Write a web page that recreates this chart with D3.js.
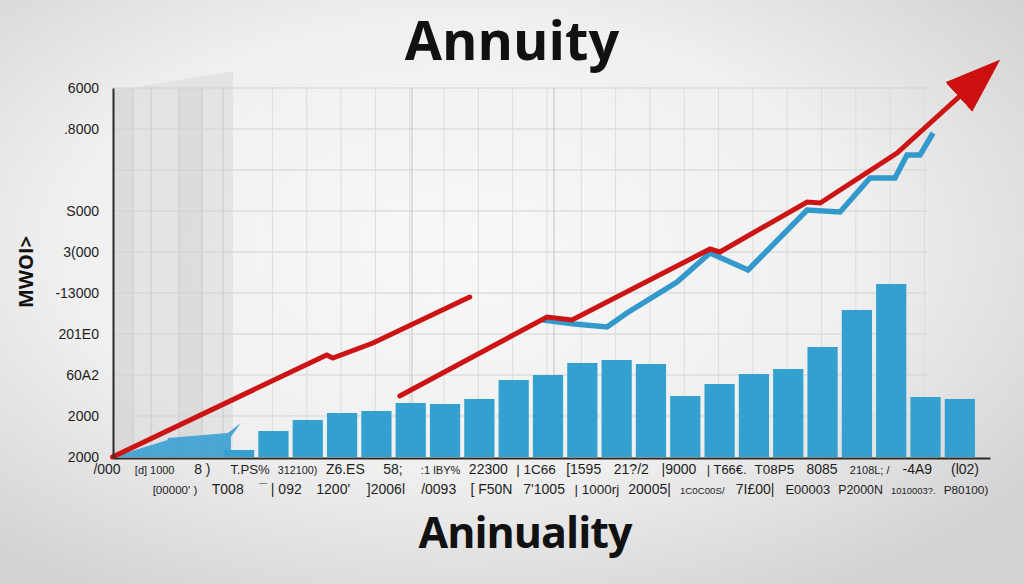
<!DOCTYPE html>
<html>
<head>
<meta charset="utf-8">
<script src="https://cdn.jsdelivr.net/npm/d3@7"></script>
<style>
  html, body { margin: 0; padding: 0; background: #eeeeee; }
  svg { display: block; }
  .lbl { font-family: "Liberation Sans Narrow", "Liberation Sans", "DejaVu Sans Condensed", sans-serif; font-size: 14px; fill: #1d1d1d; }
</style>
</head>
<body>
<svg id="chart" width="1024" height="584"></svg>
<script>
// ---------------- DATA ----------------
const titleText = "Annuity";
const bottomText = "Aninuality";
const yAxisTitle = "MWOI>";

// y tick values and their printed labels
const yTickValues = [0, 1000, 2000, 3000, 4000, 5000, 6000, 8000, 9000];
const yTickLabels = ["2000", "2000", "60A2", "201E0", "-13000", "3(000", "S000", ".8000", "6000"];

// bar slots (index) and values (null = no bar)
const slots = d3.range(25);
const barValues = [null, null, null, 170, 634, 902, 1073, 1122, 1317, 1293, 1415, 1878, 2000,
                   2293, 2366, 2268, 1488, 1780, 2024, 2146, 2683, 3585, 4220, 1463, 1415];

// red trend line, two pieces: [slot position, value]
const redPiece1 = [[-0.69, 0], [5.55, 2488], [5.73, 2415], [6.9, 2780], [9.72, 3902]];
const redPiece2 = [[7.68, 1488], [11.97, 3415], [12.7, 3341], [16.72, 5073], [17.01, 5000],
                   [19.55, 6220], [19.93, 6195], [22.17, 7415], [24.1, 8878]];

// blue line: [slot position, value]
const bluePoints = [[11.85, 3341], [12.78, 3244], [13.72, 3171], [14.3, 3512], [15.76, 4268],
                    [16.72, 4976], [17.83, 4561], [19.55, 6024], [20.51, 5976], [21.38, 6805],
                    [22.11, 6805], [22.46, 7366], [22.84, 7366], [23.22, 7902]];
// blue wedge near the origin: [slot position, value]
const blueWedge = [[-0.69, 0], [0.92, 415], [0.92, 463], [2.67, 585], [3.05, 829],
                   [2.76, 488], [2.76, 0]];

// x-axis label rows
const xLabelsRow1 = ["/000", "[d] 1000", "8 )", "T.PS%", "312100)", "Z6.ES", "58;", ":1 lBY%",
                     "22300", "| 1C66", "[1595", "21?/2", "|9000", "| T66€.", "T08P5", "8085",
                     "2108L; /", "-4A9", "(l02)"];
const xLabelsRow2 = ["[00000' )", "T008", "¯ | 092", "1200'", "]2006l", "/0093", "[ F50N",
                     "7'1005", "| 1000rj", "20005|", "1C0C00S/", "7I£00|", "E00003",
                     "P2000N", "1010003?.", "P80100)"];

// ---------------- CHART ----------------
const svg = d3.select("#chart");
const W = 1024, H = 584;

const defs = svg.append("defs");
const rg = defs.append("radialGradient").attr("id", "bg")
  .attr("cx", "45%").attr("cy", "42%").attr("r", "70%");
rg.append("stop").attr("offset", "0%").attr("stop-color", "#f8f8f8");
rg.append("stop").attr("offset", "55%").attr("stop-color", "#f0f0f0");
rg.append("stop").attr("offset", "100%").attr("stop-color", "#d2d2d2");

const mk = defs.append("marker").attr("id", "arrow")
  .attr("markerUnits", "userSpaceOnUse")
  .attr("viewBox", "0 0 56 44").attr("refX", 6).attr("refY", 22)
  .attr("markerWidth", 56).attr("markerHeight", 44)
  .attr("orient", "auto");
mk.append("path").attr("d", "M0,2 L56,22 L0,42 Z").attr("fill", "#cc1010");

svg.append("rect").attr("width", W).attr("height", H).attr("fill", "url(#bg)");

const x = d3.scaleBand().domain(slots).range([119, 977]).paddingInner(0.12).paddingOuter(0.06);
const half = x.bandwidth() / 2;
const xl = d3.scaleLinear().domain([0, 24]).range([x(0) + half, x(24) + half]);
const y = d3.scaleLinear().domain([0, 9000]).range([457, 88]);

const axisX0 = 113, axisXEnd = 990, gridXEnd = 927;

// shaded panel at left
const panelRight = 233;
svg.append("path")
  .attr("d", `M${axisX0},${y(9000) + 3} L${panelRight},${y(9000) - 17} L${panelRight},${y(0)} L${axisX0},${y(0)} Z`)
  .attr("fill", "#d9d9d9").attr("opacity", 0.55);
[[axisX0, 20], [179, 23]].forEach(([px, w]) => {
  svg.append("rect").attr("x", px).attr("y", y(9000))
    .attr("width", w).attr("height", y(0) - y(9000))
    .attr("fill", "#cfcfcf").attr("opacity", 0.35);
});
[133, 151, 179, 202, 223].forEach(px => {
  svg.append("line").attr("x1", px).attr("x2", px).attr("y1", y(9000)).attr("y2", y(0))
    .attr("stroke", "#c9c9c9").attr("stroke-width", 1);
});

// gridlines
const grid = svg.append("g");
grid.selectAll("line.h").data(d3.range(1000, 9001, 1000)).join("line")
  .attr("x1", axisX0).attr("x2", gridXEnd)
  .attr("y1", d => y(d)).attr("y2", d => y(d))
  .attr("stroke", "#d2d2d2").attr("stroke-width", 1.2);
grid.selectAll("line.v").data(d3.range(4, 24)).join("line")
  .attr("x1", d => xl(d - 0.03)).attr("x2", d => xl(d - 0.03))
  .attr("y1", y(9000)).attr("y2", y(0))
  .attr("stroke", "#dcdcdc").attr("stroke-width", 1);
[412, 554].forEach(px => grid.append("line").attr("x1", px).attr("x2", px)
  .attr("y1", y(9000)).attr("y2", y(0)).attr("stroke", "#cccccc").attr("stroke-width", 1.2));

// blue wedge near origin
const lineGen = d3.line().x(d => xl(d[0])).y(d => y(d[1]));
svg.append("path").attr("d", lineGen(blueWedge) + "Z")
  .attr("fill", "#3aa0d4").attr("opacity", 0.9);

// bars
svg.append("g").selectAll("rect")
  .data(slots.filter(i => barValues[i] != null))
  .join("rect")
  .attr("x", i => x(i)).attr("width", x.bandwidth())
  .attr("y", i => y(barValues[i])).attr("height", i => y(0) - y(barValues[i]))
  .attr("fill", "#33a0cf");

// blue line
svg.append("path").attr("d", lineGen(bluePoints))
  .attr("fill", "none").attr("stroke", "#3399cc").attr("stroke-width", 5.5)
  .attr("stroke-linejoin", "miter");

// red lines
svg.append("path").attr("d", lineGen(redPiece1))
  .attr("fill", "none").attr("stroke", "#cc1414").attr("stroke-width", 5)
  .attr("stroke-linecap", "round");
svg.append("path").attr("d", lineGen(redPiece2))
  .attr("fill", "none").attr("stroke", "#cc1414").attr("stroke-width", 5)
  .attr("stroke-linecap", "round").attr("marker-end", "url(#arrow)");

// y axis
const yAxis = svg.append("g").attr("transform", `translate(${axisX0},0)`)
  .call(d3.axisLeft(y).tickValues(yTickValues).tickFormat((d, i) => yTickLabels[i])
    .tickSize(0).tickPadding(14));
yAxis.select(".domain").attr("stroke", "#2a2a2a").attr("stroke-width", 2);
yAxis.selectAll("text").attr("class", "lbl").attr("font-size", null).attr("font-family", null);

// x axis line
const xAxisScale = d3.scaleLinear().domain([0, 1]).range([axisX0, axisXEnd]);
const xAxis = svg.append("g").attr("transform", `translate(0,${y(0) + 1})`)
  .call(d3.axisBottom(xAxisScale).tickValues([]).tickSizeOuter(0));
xAxis.select(".domain").attr("stroke", "#2a2a2a").attr("stroke-width", 2);

// x label rows (font shrunk so each fits its slot)
function fit(sel, maxW) {
  sel.each(function () {
    const w = this.getComputedTextLength();
    if (w > maxW) d3.select(this).style("font-size", (14 * maxW / w).toFixed(2) + "px");
  });
}
const row1 = d3.scalePoint().domain(d3.range(xLabelsRow1.length)).range([107, 965]);
const row2 = d3.scalePoint().domain(d3.range(xLabelsRow2.length)).range([175, 966]);
svg.append("g").selectAll("text").data(xLabelsRow1).join("text")
  .attr("class", "lbl").attr("text-anchor", "middle")
  .attr("x", (d, i) => row1(i)).attr("y", 474).text(d => d)
  .call(fit, row1.step() - 8);
svg.append("g").selectAll("text").data(xLabelsRow2).join("text")
  .attr("class", "lbl").attr("text-anchor", "middle")
  .attr("x", (d, i) => row2(i)).attr("y", 494).text(d => d)
  .call(fit, row2.step() - 8);

// titles
svg.append("text").attr("x", 512).attr("y", 60).attr("text-anchor", "middle")
  .attr("font-family", "Open Sans, Noto Sans, sans-serif").attr("font-weight", 700)
  .attr("font-size", 54).attr("fill", "#111").text(titleText);
svg.append("text").attr("x", 525).attr("y", 548).attr("text-anchor", "middle")
  .attr("font-family", "Open Sans, Noto Sans, sans-serif").attr("font-weight", 700)
  .attr("font-size", 43).attr("letter-spacing", -1).attr("fill", "#111").text(bottomText);
svg.append("text").attr("transform", "translate(33,272) rotate(-90)")
  .attr("text-anchor", "middle")
  .attr("font-family", "Open Sans, Noto Sans, sans-serif").attr("font-weight", 700)
  .attr("font-size", 20).attr("fill", "#111").text(yAxisTitle);
</script>
</body>
</html>
